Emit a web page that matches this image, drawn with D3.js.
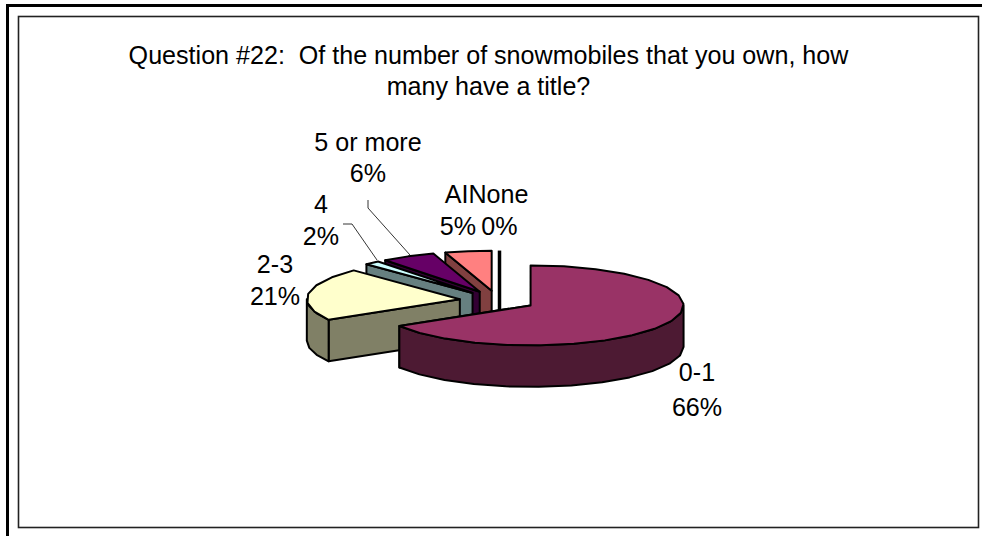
<!DOCTYPE html>
<html><head><meta charset="utf-8">
<script src="https://cdn.jsdelivr.net/npm/d3@7/dist/d3.min.js"></script>
<style>html,body{margin:0;padding:0;background:#fff}svg{display:block}text{font-family:"Liberation Sans",Arial,sans-serif;font-size:25.1px;fill:#000;white-space:pre}</style>
</head><body><svg id="c" width="982" height="536"></svg>
<script>
const categories = ["0-1","2-3","4","5 or more","AI","None"];
const values = [66.4,21.4,1.6,5.7,4.9,0];
const valueLabels = ["66%","21%","2%","6%","5%","0%"];
const topColors = ["#993366","#FFFFCC","#CCFFFF","#660066","#FF8080","#0066CC"];
const sideColors = ["#4D1A33","#808066","#668080","#330033","#804040","#003366"];
const titleLines = ["Question #22:  Of the number of snowmobiles that you own, how","many have a title?"];

const W=982,H=536, cx=497.5, cy=300.5, rx=153, ry=40, depth=41.5, explode=38;
const svg=d3.select("#c");
svg.append("rect").attr("width",W).attr("height",H).attr("fill","#fff");
svg.append("path").attr("d","M7.5 536V5.5H982").attr("fill","none").attr("stroke","#000").attr("stroke-width",3);
svg.append("rect").attr("x",18.5).attr("y",16.5).attr("width",960).attr("height",511).attr("fill","none").attr("stroke","#222").attr("stroke-width",1.6);

svg.selectAll(".title").data(titleLines).join("text").attr("class","title")
  .attr("x",488.5).attr("y",(d,i)=>64+i*31).attr("text-anchor","middle").text(d=>d);

const pie=d3.pie().value(d=>d).sort(null).startAngle(0).endAngle(2*Math.PI);
const arcs=pie(values).map((a,i)=>{
  const m=(a.startAngle+a.endAngle)/2;
  return {i,a0:a.startAngle,a1:a.endAngle,
    ox:cx+explode*Math.sin(m), oy:cy-explode*Math.cos(m)*ry/rx};
});
const line=d3.line();
function rim(s,t,dy=0){
  return [s.ox+rx*Math.sin(t), s.oy-ry*Math.cos(t)+dy];
}
function rimPts(s,a0,a1,dy=0){
  const n=Math.max(1,Math.ceil((a1-a0)/(Math.PI/14)));
  return d3.range(n+1).map(k=>rim(s,a0+(a1-a0)*k/n,dy));
}
const g=svg.append("g").attr("stroke","#000").attr("stroke-width",2).attr("stroke-linejoin","round");
const order=[5,4,3,2,1,0];
order.forEach(i=>{
  const s=arcs[i], top=topColors[i], side=sideColors[i];
  if(values[i]===0){
    g.append("path").attr("d",line([[s.ox+2,s.oy-ry],[s.ox+2,s.oy+depth-22]])).attr("stroke-width",3.5).attr("fill","none");
    return;
  }
  const apex=[s.ox,s.oy], apexB=[s.ox,s.oy+depth];
  const face=a=>{const r=rim(s,a),rb=rim(s,a,depth);
    g.append("path").attr("d",line([apex,r,rb,apexB])+"Z").attr("fill",side);};
  if(s.a0>Math.PI) face(s.a0);
  if(s.a1<Math.PI) face(s.a1);
  if(s.a1>Math.PI && s.a1<3*Math.PI/2) face(s.a1);
  const w0=Math.max(s.a0,Math.PI/2), w1=Math.min(s.a1,3*Math.PI/2);
  if(w1>w0){
    const up=rimPts(s,w0,w1), dn=rimPts(s,w0,w1,depth).reverse();
    g.append("path").attr("d",line(up.concat(dn))+"Z").attr("fill",side);
  }
  g.append("path").attr("d",line([apex].concat(rimPts(s,s.a0,s.a1)))+"Z").attr("fill",top);
});

const leaders=[[[368,200],[368,208],[410,255]],[[343,224],[352,224],[377,260]]];
svg.selectAll(".lead").data(leaders).join("path").attr("class","lead")
  .attr("d",d=>line(d)).attr("fill","none").attr("stroke","#000").attr("stroke-width",0.8);

const labelX=[697,275,321,368,456.5,498.5];
const labelValueX=[697,275,321,368,458,499.5];
const labelY=[381,273,213,151,203,203];
const labelGap=[35,32,32,31,32,32];
const lab=svg.selectAll(".lab").data(categories).join("g").attr("class","lab");
lab.append("text").attr("x",(d,i)=>labelX[i]).attr("y",(d,i)=>labelY[i]).attr("text-anchor","middle").text(d=>d);
lab.append("text").attr("x",(d,i)=>labelValueX[i]).attr("y",(d,i)=>labelY[i]+labelGap[i]).attr("text-anchor","middle").text((d,i)=>valueLabels[i]);
</script></body></html>
